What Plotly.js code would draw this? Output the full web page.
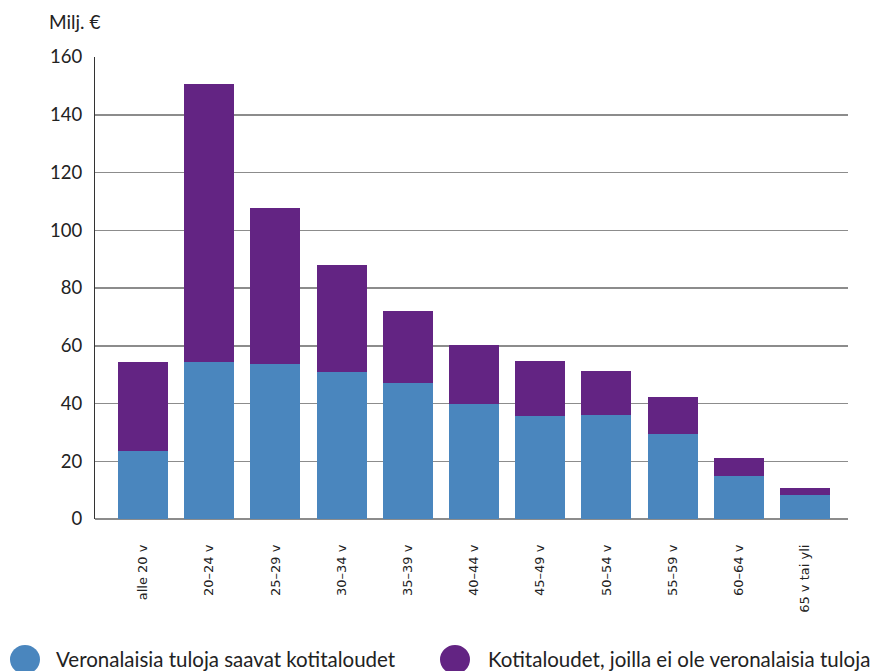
<!DOCTYPE html>
<html>
<head>
<meta charset="utf-8">
<script src="https://cdn.plot.ly/plotly-3.0.1.min.js"></script>
<style>html,body{margin:0;padding:0;background:#fff;}#chart{width:890px;height:671px;}</style>
</head>
<body>
<div id="chart"></div>
<script>
const categories = ["alle 20 v","20–24 v","25–29 v","30–34 v","35–39 v","40–44 v","45–49 v","50–54 v","55–59 v","60–64 v","65 v tai yli"];
const taxableIncome = [23.5, 54.5, 53.8, 51.0, 47.2, 40.0, 35.8, 36.1, 29.4, 14.9, 8.3];
const noTaxableIncome = [31.0, 96.0, 54.0, 36.8, 25.0, 20.2, 18.8, 15.0, 13.0, 6.3, 2.5];
const seriesNames = ["Veronalaisia tuloja saavat kotitaloudet", "Kotitaloudet, joilla ei ole veronalaisia tuloja"];
const yTicks = [0, 20, 40, 60, 80, 100, 120, 140, 160];
const colors = ["#4a86be", "#632483"];

const traces = [
  {type:"bar", x:categories, y:taxableIncome, name:seriesNames[0], marker:{color:colors[0]}, width:0.755, showlegend:false, hoverinfo:"y"},
  {type:"bar", x:categories, y:noTaxableIncome, name:seriesNames[1], marker:{color:colors[1]}, width:0.755, showlegend:false, hoverinfo:"y"}
];

const layout = {
  width:890, height:671,
  margin:{l:95, r:42, t:57, b:152},
  paper_bgcolor:"#fff", plot_bgcolor:"#fff",
  barmode:"stack",
  font:{family:"Lato, 'Open Sans', sans-serif", color:"#222"},
  xaxis:{
    type:"category",
    range:[-0.725, 10.65],
    tickangle:-90,
    tickfont:{family:"'DejaVu Sans', sans-serif", size:13, color:"#222"},
    ticks:"", ticklabelstandoff:22,
    showgrid:false, zeroline:false, showline:false, fixedrange:true
  },
  yaxis:{
    range:[0,160], tickvals:yTicks,
    tickfont:{family:"Lato, sans-serif", size:18.5, color:"#222"},
    showgrid:true, gridcolor:"#8c8c8c", gridwidth:1.5,
    zeroline:true, zerolinecolor:"#8c8c8c", zerolinewidth:2,
    showline:true, linecolor:"#333", linewidth:1,
    ticks:"", ticklabelstandoff:8, fixedrange:true
  },
  annotations:[
    {text:"Milj. €", xref:"paper", yref:"paper", x:0, xshift:-48, y:1, xanchor:"left", yanchor:"bottom", yshift:22, showarrow:false, font:{family:"Lato, sans-serif", size:19, color:"#222"}},
    {text:seriesNames[0], xref:"paper", yref:"paper", x:0, xshift:-41, y:0, yshift:-140, xanchor:"left", yanchor:"middle", showarrow:false, font:{family:"Lato, sans-serif", size:20.5, color:"#222"}},
    {text:seriesNames[1], xref:"paper", yref:"paper", x:0, xshift:391, y:0, yshift:-140, xanchor:"left", yanchor:"middle", showarrow:false, font:{family:"Lato, sans-serif", size:20.5, color:"#222"}}
  ],
  shapes:[
    {type:"circle", xref:"paper", yref:"paper", xsizemode:"pixel", ysizemode:"pixel", xanchor:0, yanchor:0, x0:-85, x1:-55, y0:-126, y1:-155, fillcolor:colors[0], line:{width:0}},
    {type:"circle", xref:"paper", yref:"paper", xsizemode:"pixel", ysizemode:"pixel", xanchor:0, yanchor:0, x0:345, x1:375, y0:-126, y1:-155, fillcolor:colors[1], line:{width:0}}
  ]
};

Plotly.newPlot("chart", traces, layout, {displayModeBar:false, staticPlot:true});
</script>
</body>
</html>
